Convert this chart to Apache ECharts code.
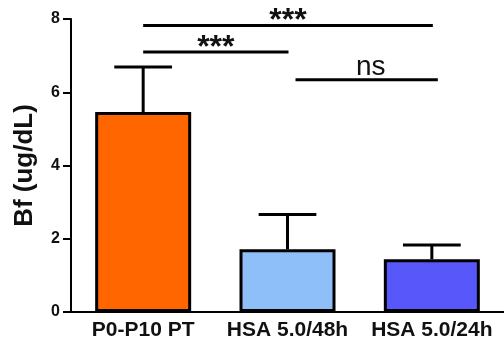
<!DOCTYPE html>
<html>
<head>
<meta charset="utf-8">
<script src="https://cdn.jsdelivr.net/npm/echarts@6/dist/echarts.min.js"></script>
<style>
  html, body { margin: 0; padding: 0; background: #fff; }
  #chart { width: 504px; height: 347px; }
</style>
</head>
<body>
<div id="chart"></div>
<script>
// Groups and measured Bf levels (mean with upper SEM)
const groups = ['P0-P10 PT', 'HSA 5.0/48h', 'HSA 5.0/24h'];
const meanBf = [5.46, 1.71, 1.44];
const semBf = [1.23, 0.95, 0.39];
const barColors = ['#FF6600', '#8FBFF8', '#5757FA'];

// Pairwise comparisons drawn as brackets above the bars
const cmpFrom = [0, 0, 1];
const cmpTo = [2, 1, 2];
const cmpLevel = [7.82, 7.10, 6.34];
const cmpText = ['***', '***', 'ns'];

const yTicks = [0, 2, 4, 6, 8];

const chart = echarts.init(document.getElementById('chart'));
const FONT = 'Liberation Sans, Arial, sans-serif';

chart.setOption({
  animation: false,
  grid: { left: 71, right: -9, top: 19, bottom: 35, containLabel: false },
  xAxis: {
    type: 'category',
    data: groups,
    axisLine: { lineStyle: { color: '#000', width: 2 } },
    axisTick: { alignWithLabel: true, length: 7, lineStyle: { color: '#000', width: 2 } },
    axisLabel: { interval: 0, color: '#111', fontFamily: FONT, fontWeight: 'bold', fontSize: 21, margin: 8 }
  },
  yAxis: {
    type: 'value',
    position: 'left',
    min: 0, max: 8, interval: 2,
    name: 'Bf (ug/dL)',
    nameLocation: 'middle',
    nameGap: 33,
    nameRotate: 90,
    nameTextStyle: { color: '#111', fontFamily: FONT, fontWeight: 'bold', fontSize: 26 },
    axisLine: { show: true, onZero: false, lineStyle: { color: '#000', width: 2 } },
    axisTick: { show: true, inside: false, interval: 0, length: 8, lineStyle: { color: '#000', width: 2, opacity: 1 } },
    axisLabel: {
      color: '#111', fontFamily: FONT, fontWeight: 'bold', fontSize: 16, margin: 11,
      formatter: v => yTicks.includes(v) ? String(v) : ''
    },
    splitLine: { show: false }
  },
  series: [
    {
      type: 'bar',
      data: meanBf.map((v, i) => ({ value: v, itemStyle: { color: barColors[i] } })),
      barWidth: 96,
      itemStyle: { borderColor: '#000', borderWidth: 3 },
      z: 2
    },
    {
      // upper error bars
      type: 'custom',
      data: meanBf.map((v, i) => [i, v, v + semBf[i]]),
      renderItem: (params, api) => {
        const lo = api.coord([api.value(0), api.value(1)]);
        const hi = api.coord([api.value(0), api.value(2)]);
        const half = api.size([1, 0])[0] * 0.2;
        const st = { stroke: '#000', lineWidth: 3 };
        return {
          type: 'group',
          children: [
            { type: 'line', shape: { x1: lo[0], y1: lo[1], x2: hi[0], y2: hi[1] }, style: st },
            { type: 'line', shape: { x1: hi[0] - half, y1: hi[1], x2: hi[0] + half, y2: hi[1] }, style: st }
          ]
        };
      },
      z: 1
    },
    {
      // significance brackets
      type: 'custom',
      data: cmpFrom.map((f, i) => [f, cmpTo[i], cmpLevel[i], i]),
      renderItem: (params, api) => {
        const idx = api.value(3);
        const a = api.coord([api.value(0), api.value(2)]);
        const b = api.coord([api.value(1), api.value(2)]);
        const x1 = a[0] + (api.value(0) === 1 ? 8 : 0);
        const x2 = b[0] + (api.value(0) === 1 ? 6 : 1);
        const txt = cmpText[idx];
        const isNs = txt === 'ns';
        return {
          type: 'group',
          children: [
            { type: 'line', shape: { x1: x1, y1: a[1], x2: x2, y2: a[1] }, style: { stroke: '#000', lineWidth: 3 } },
            {
              type: 'text',
              x: (x1 + x2) / 2 + (isNs ? 4 : 0), y: a[1] + (isNs ? 1 : 12),
              style: {
                text: txt,
                align: 'center', verticalAlign: 'bottom',
                fill: '#111',
                font: (isNs ? 'normal 28px ' : 'bold 32px ') + FONT
              }
            }
          ]
        };
      },
      z: 3
    }
  ]
});
</script>
</body>
</html>
